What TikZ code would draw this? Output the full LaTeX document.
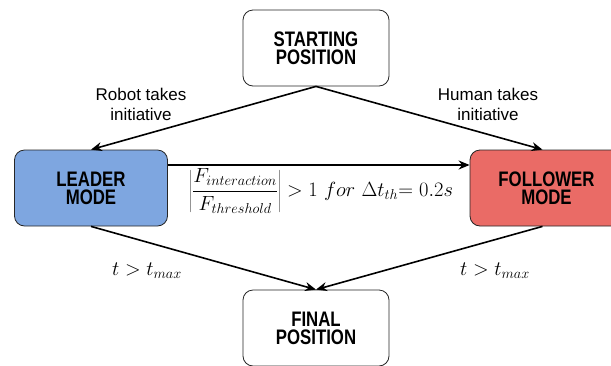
\RequirePackage{fix-cm}
\documentclass[tikz,border=0pt]{standalone}
\usepackage{fontspec}
\usetikzlibrary{arrows.meta}
\newfontfamily\boxfont[FakeStretch=0.8]{Liberation Sans}
\newfontfamily\labelfont{Liberation Sans}
\definecolor{leaderblue}{HTML}{7EA6E0}
\definecolor{followerred}{HTML}{EA6B66}
\begin{document}
\begin{tikzpicture}[x=1pt,y=-1pt,
  box/.style={draw=black!85, line width=0.8pt, rounded corners=10pt, minimum width=146pt, minimum height=76pt, align=center, font=\boxfont\bfseries\fontsize{21}{18}\selectfont, inner sep=0pt},
  lbl/.style={align=center, font=\labelfont\fontsize{17}{20}\selectfont, inner sep=0pt},
  mth/.style={font=\fontsize{20.5}{24}\selectfont, inner sep=0pt},
  arr/.style={-{Stealth[length=11pt,width=9pt]}, line width=1.6pt}]
\useasboundingbox (0,0) rectangle (611,365);
\node[box] (start) at (316,48) {STARTING\\POSITION};
\node[box, fill=leaderblue, minimum width=153pt] (leader) at (91,188) {LEADER\\MODE};
\node[box, fill=followerred, minimum width=153pt] (follower) at (546.5,188) {FOLLOWER\\MODE};
\node[box] (final) at (316,328) {FINAL\\POSITION};
\draw[arr] (start.south) -- (leader.north);
\draw[arr] (start.south) -- ([xshift=-4pt]follower.north);
\draw[arr] ([yshift=23pt]leader.east) -- ([yshift=23pt]follower.west);
\draw[arr] (leader.south) -- (final.north);
\draw[arr] ([xshift=-4pt]follower.south) -- (final.north);
\node[lbl] (robot) at (141,104) {Robot takes\\initiative};
\node[lbl] (human) at (488,104) {Human takes\\initiative};
\node[mth] (tl) at (147,271) {$t > t_{max}$};
\node[mth] (tr) at (495,271) {$t > t_{max}$};
\node[mth] (cond) at (321,191) {$\left|\displaystyle\frac{F_{interaction}}{F_{threshold}}\right| > 1\ for\ \Delta t_{th}{=}\ 0.2s$};
\end{tikzpicture}
\end{document}
